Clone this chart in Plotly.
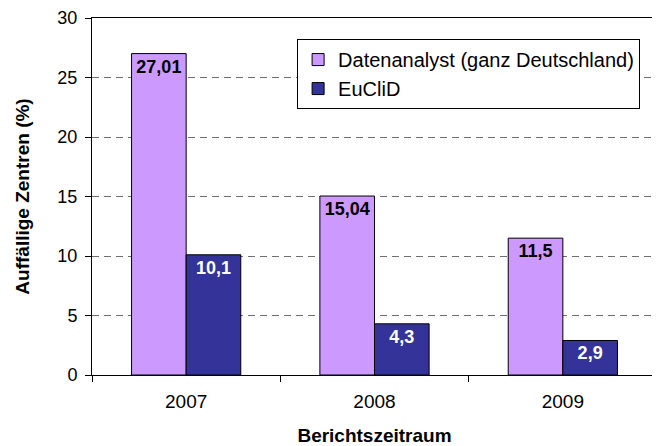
import plotly.graph_objects as go

years = ["2007", "2008", "2009"]
datenanalyst = [27.01, 15.04, 11.5]
euclid = [10.1, 4.3, 2.9]
series_names = ["Datenanalyst (ganz Deutschland)", "EuCliD"]
y_ticks = [0, 5, 10, 15, 20, 25, 30]


def fmt(v):
    return str(v).replace(".", ",")


font_family = "Liberation Sans, Arial, sans-serif"

fig = go.Figure()
fig.add_trace(go.Bar(
    x=years, y=datenanalyst, name=series_names[0],
    marker=dict(color="#CC99FF", line=dict(color="black", width=1)),
    text=[fmt(v) for v in datenanalyst], textposition="inside",
    insidetextanchor="end", textangle=0,
    textfont=dict(family=font_family, size=18, color="black", weight="bold"),
    constraintext="none",
))
fig.add_trace(go.Bar(
    x=years, y=euclid, name=series_names[1],
    marker=dict(color="#333399", line=dict(color="black", width=1)),
    text=[fmt(v) for v in euclid], textposition="inside",
    insidetextanchor="end", textangle=0,
    textfont=dict(family=font_family, size=18, color="white", weight="bold"),
    constraintext="none",
))

fig.update_layout(
    width=652, height=438,
    margin=dict(l=84, r=3, t=10, b=71),
    paper_bgcolor="white", plot_bgcolor="white",
    font=dict(family=font_family, size=19, color="black"),
    barmode="group", bargap=0.42, bargroupgap=0,
    showlegend=True,
    legend=dict(
        x=0.363, y=0.941, xanchor="left", yanchor="top",
        bordercolor="black", borderwidth=1, bgcolor="white",
        font=dict(size=20), tracegroupgap=0,
    ),
    xaxis=dict(
        automargin=False,
        showline=True, linecolor="black", linewidth=1, mirror=True,
        ticks="outside", ticklen=6, tickcolor="black", tickson="boundaries",
        ticklabelstandoff=9,
        title=dict(text="<b>Berichtszeitraum</b>", font=dict(size=19), standoff=17),
        tickfont=dict(size=19),
    ),
    yaxis=dict(
        automargin=False,
        range=[0, 30], tickvals=y_ticks,
        showline=True, linecolor="black", linewidth=1,
        ticks="outside", ticklen=6, tickcolor="black",
        ticklabelstandoff=4,
        showgrid=True, gridcolor="#707070", griddash="7px,5px", gridwidth=1,
        title=dict(text="<b>Auffällige Zentren (%)</b>", font=dict(size=19), standoff=22),
        tickfont=dict(size=18),
    ),
)

fig.write_html("out.html")
